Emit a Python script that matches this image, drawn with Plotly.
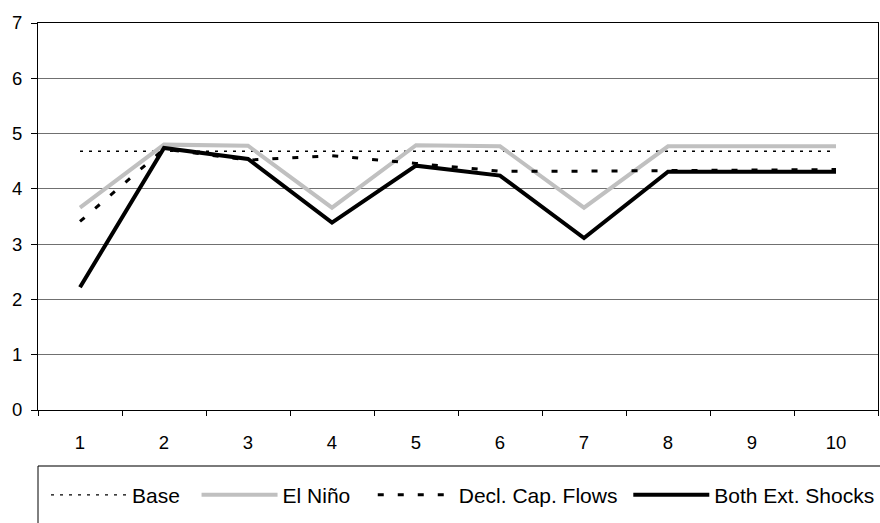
import plotly.graph_objects as go

periods = ["1", "2", "3", "4", "5", "6", "7", "8", "9", "10"]
base = [4.68, 4.68, 4.68, 4.68, 4.68, 4.68, 4.68, 4.68, 4.68, 4.68]
el_nino = [3.66, 4.80, 4.78, 3.66, 4.79, 4.77, 3.66, 4.77, 4.77, 4.77]
decl_cap = [3.41, 4.72, 4.52, 4.60, 4.46, 4.32, 4.32, 4.33, 4.35, 4.35]
both = [2.22, 4.74, 4.54, 3.39, 4.42, 4.24, 3.11, 4.31, 4.31, 4.31]
series_names = ["Base", "El Niño", "Decl. Cap. Flows", "Both Ext. Shocks"]

NB = "\u00a0"
legend_pad = [2, 3, 1, 0]

fig = go.Figure()
fig.add_trace(go.Scatter(x=periods, y=base, name=series_names[0] + NB * legend_pad[0], mode="lines",
                         line=dict(color="black", width=1.3, dash="3px,6px")))
fig.add_trace(go.Scatter(x=periods, y=el_nino, name=series_names[1] + NB * legend_pad[1], mode="lines",
                         line=dict(color="#c0c0c0", width=4)))
fig.add_trace(go.Scatter(x=periods, y=decl_cap, name=series_names[2] + NB * legend_pad[2], mode="lines",
                         line=dict(color="black", width=3, dash="6px,14px")))
fig.add_trace(go.Scatter(x=periods, y=both, name=series_names[3] + NB * legend_pad[3], mode="lines",
                         line=dict(color="black", width=4)))

fig.update_layout(
    width=880, height=523,
    margin=dict(l=38, r=2, t=23, b=113),
    paper_bgcolor="white", plot_bgcolor="white",
    font=dict(family="Liberation Sans, Arial, sans-serif", color="black", size=18),
    showlegend=True,
    legend=dict(orientation="h", x=0.01, xanchor="left", y=-0.22, yanchor="middle",
                font=dict(size=21), itemwidth=76, bgcolor="rgba(0,0,0,0)",
                traceorder="normal"),
    shapes=[
        dict(type="line", xref="paper", yref="paper", x0=0, x1=1.05, y0=-0.1447, y1=-0.1447,
             line=dict(color="#7a7a7a", width=2)),
        dict(type="line", xref="paper", yref="paper", x0=0, x1=0, y0=-0.1447, y1=-0.35,
             line=dict(color="black", width=1)),
    ],
)
fig.update_xaxes(type="category", range=[-0.5, 9.5], tickson="boundaries", ticks="outside",
                 ticklen=5, tickcolor="black", showgrid=False, showline=True,
                 linecolor="black", linewidth=1, mirror=True, ticklabelstandoff=16,
                 tickfont=dict(size=18.5))
fig.update_yaxes(range=[0, 7], dtick=1, ticks="outside", ticklen=6, tickcolor="black",
                 showgrid=True, gridcolor="#707070", gridwidth=1, zeroline=False,
                 showline=True, linecolor="black", linewidth=1, mirror=True,
                 ticklabelstandoff=5, tickfont=dict(size=18.5))

fig.write_html("out.html", config={"displayModeBar": False},
               post_script="document.body.style.margin='0';")
